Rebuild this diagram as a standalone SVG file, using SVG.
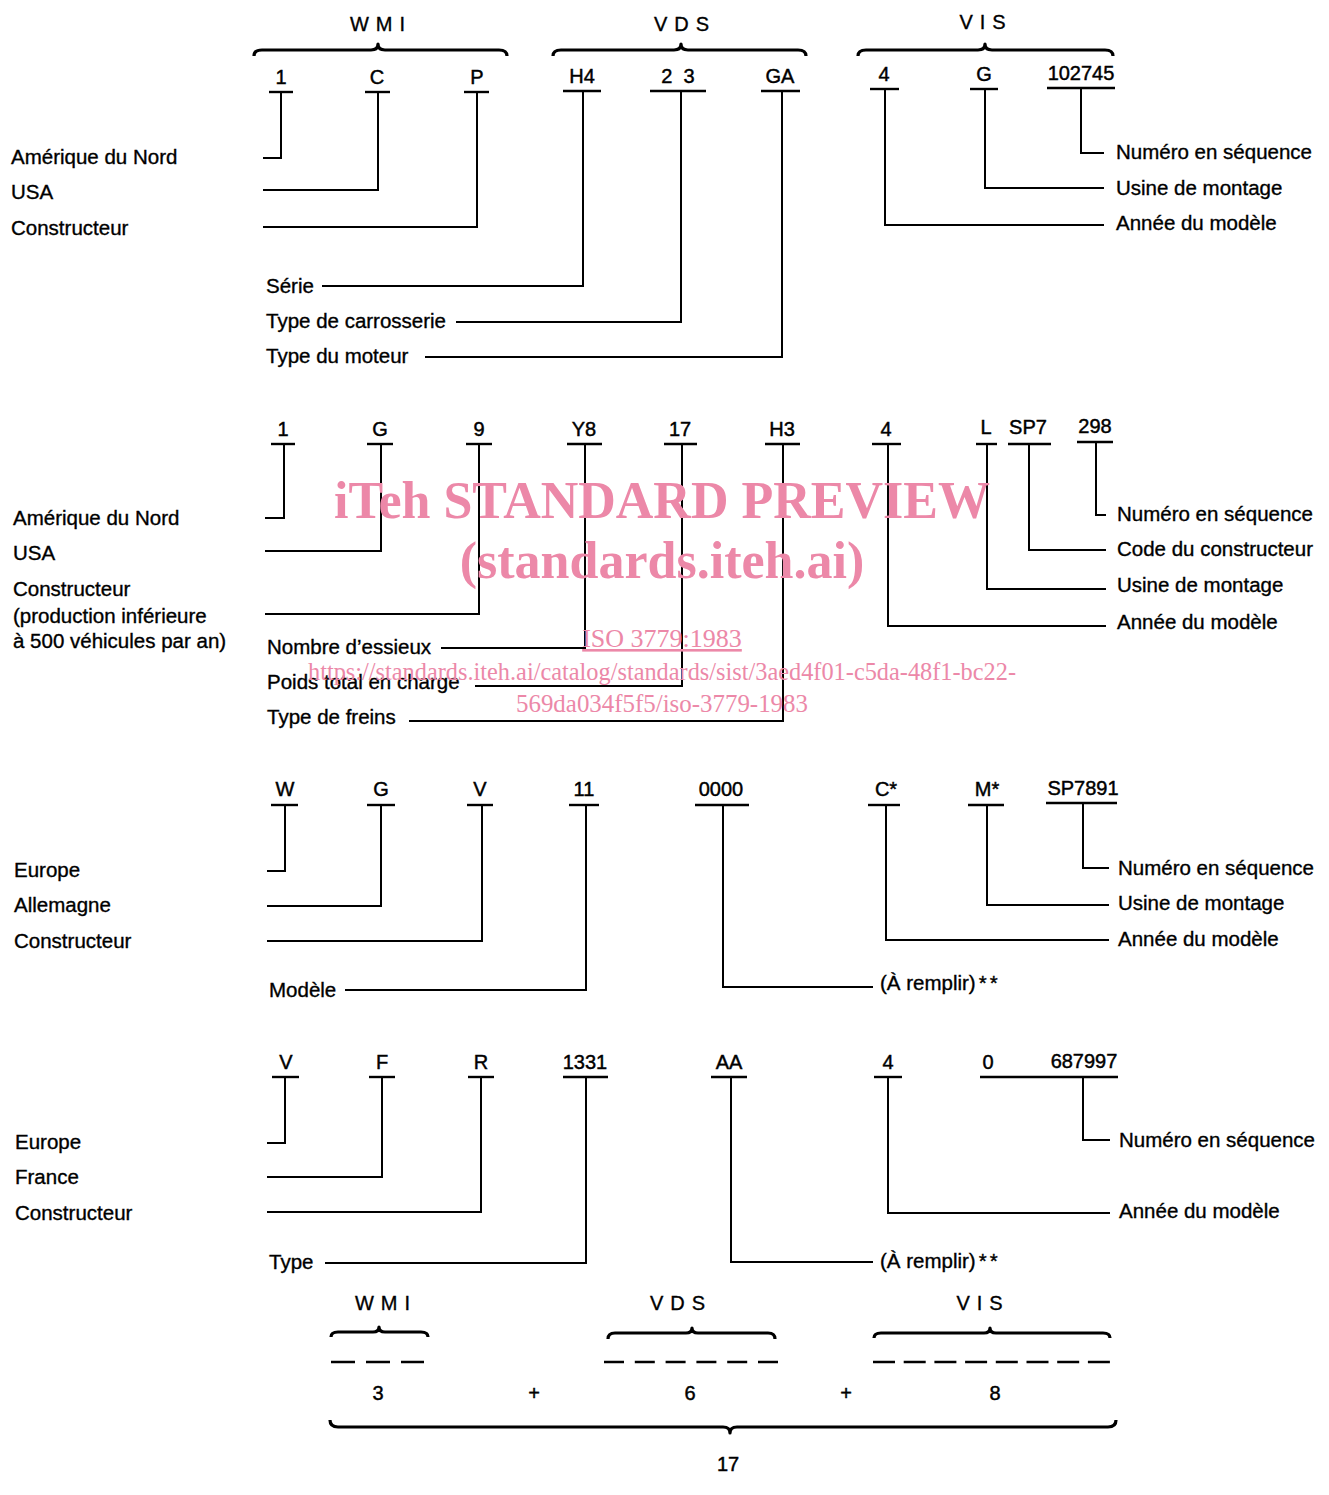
<svg xmlns="http://www.w3.org/2000/svg" width="1329" height="1495" viewBox="0 0 1329 1495">
<style>
text{font-family:"Liberation Sans",Arial,sans-serif;fill:#000}
.lb{font-size:20.5px;stroke:#000;stroke-width:0.35}
.ch{font-size:20px;text-anchor:middle;stroke:#000;stroke-width:0.45}
.hd{font-size:20px;text-anchor:middle;letter-spacing:7px;stroke:#000;stroke-width:0.35}
.ul{stroke:#000;stroke-width:2.4;fill:none}
.cn{stroke:#000;stroke-width:2;fill:none}
.br{stroke:#000;stroke-width:3.2;fill:none;stroke-linejoin:round}
.ds{stroke:#000;stroke-width:2.6;fill:none}
.wm{font-family:"Liberation Serif","Times New Roman",serif;fill:#ec88a8;text-anchor:middle}
</style>
<rect width="1329" height="1495" fill="#fff"/>

<g id="headers">
<g id="hdr-wmi"><text class="hd" x="381" y="31">WMI</text><path class="br" d="M254,56 Q254,50 262,50 L371,50 Q378,50 378,44 Q378,50 385,50 L499,50 Q507,50 507,56"/></g>
<g id="hdr-vds"><text class="hd" x="685" y="31">VDS</text><path class="br" d="M553,56 Q553,50 561,50 L674,50 Q681,50 681,44 Q681,50 688,50 L798,50 Q806,50 806,56"/></g>
<g id="hdr-vis"><text class="hd" x="986" y="29">VIS</text><path class="br" d="M858,56 Q858,50 866,50 L978,50 Q985,50 985,44 Q985,50 992,50 L1105,50 Q1113,50 1113,56"/></g>
</g>

<g id="connectors">
<path class="cn" d="M281,92 V158 H263"/>
<path class="cn" d="M378,92 V190 H263"/>
<path class="cn" d="M477,92 V227 H263"/>
<path class="cn" d="M583,91 V286 H322"/>
<path class="cn" d="M681,91 V322 H456"/>
<path class="cn" d="M782,91 V357 H425"/>
<path class="cn" d="M885,89 V225 H1104"/>
<path class="cn" d="M985,89 V188 H1104"/>
<path class="cn" d="M1081,88 V153 H1104"/>

<path class="cn" d="M284,444 V518 H265"/>
<path class="cn" d="M381,444 V551 H265"/>
<path class="cn" d="M479,444 V614 H265"/>
<path class="cn" d="M585,444 V648 H441"/>
<path class="cn" d="M682,444 V686 H475"/>
<path class="cn" d="M783,444 V721 H409"/>
<path class="cn" d="M888,444 V626 H1106"/>
<path class="cn" d="M987,444 V589 H1106"/>
<path class="cn" d="M1029,444 V550 H1106"/>
<path class="cn" d="M1096,442 V515 H1106"/>

<path class="cn" d="M285,805 V871 H267"/>
<path class="cn" d="M381,805 V906 H267"/>
<path class="cn" d="M482,805 V941 H267"/>
<path class="cn" d="M586,805 V990 H345"/>
<path class="cn" d="M723,805 V987 H873"/>
<path class="cn" d="M886,805 V940 H1109"/>
<path class="cn" d="M987,805 V905 H1109"/>
<path class="cn" d="M1083,803 V868 H1109"/>

<path class="cn" d="M285,1077 V1143 H267"/>
<path class="cn" d="M382,1077 V1177 H267"/>
<path class="cn" d="M481,1077 V1212 H267"/>
<path class="cn" d="M586,1077 V1263 H325"/>
<path class="cn" d="M731,1077 V1262 H873"/>
<path class="cn" d="M888,1077 V1213 H1110"/>
<path class="cn" d="M1083,1077 V1140 H1110"/>
</g>

<!-- Example 1 -->
<g id="ex1">
<g id="e1-1"><text class="ch" x="281" y="84">1</text><path class="ul" d="M269,92 H293"/></g>
<g id="e1-C"><text class="ch" x="377" y="84">C</text><path class="ul" d="M365,92 H390"/></g>
<g id="e1-P"><text class="ch" x="477" y="84">P</text><path class="ul" d="M464,92 H489"/></g>
<g id="e1-H4"><text class="ch" x="582" y="83">H4</text><path class="ul" d="M563,91 H601"/></g>
<g id="e1-23"><text class="ch" x="678" y="83" xml:space="preserve">2  3</text><path class="ul" d="M650,91 H706"/></g>
<g id="e1-GA"><text class="ch" x="780" y="83">GA</text><path class="ul" d="M761,91 H800"/></g>
<g id="e1-4"><text class="ch" x="884" y="81">4</text><path class="ul" d="M870,89 H899"/></g>
<g id="e1-G"><text class="ch" x="984" y="81">G</text><path class="ul" d="M970,89 H998"/></g>
<g id="e1-seq"><text class="ch" x="1081" y="80">102745</text><path class="ul" d="M1047,88 H1115"/></g>
<g id="e1-l1"><text class="lb" x="11" y="164">Amérique du Nord</text></g>
<g id="e1-l2"><text class="lb" x="11" y="199">USA</text></g>
<g id="e1-l3"><text class="lb" x="11" y="235">Constructeur</text></g>
<g id="e1-l4"><text class="lb" x="266" y="293">Série</text></g>
<g id="e1-l5"><text class="lb" x="266" y="328">Type de carrosserie</text></g>
<g id="e1-l6"><text class="lb" x="266" y="363">Type du moteur</text></g>
<g id="e1-r1"><text class="lb" x="1116" y="159">Numéro en séquence</text></g>
<g id="e1-r2"><text class="lb" x="1116" y="195">Usine de montage</text></g>
<g id="e1-r3"><text class="lb" x="1116" y="230">Année du modèle</text></g>
</g>

<!-- Example 2 -->
<g id="ex2">
<g id="e2-1"><text class="ch" x="283" y="436">1</text><path class="ul" d="M271,444 H295"/></g>
<g id="e2-G"><text class="ch" x="380" y="436">G</text><path class="ul" d="M367,444 H393"/></g>
<g id="e2-9"><text class="ch" x="479" y="436">9</text><path class="ul" d="M466,444 H492"/></g>
<g id="e2-Y8"><text class="ch" x="584" y="436">Y8</text><path class="ul" d="M567,444 H602"/></g>
<g id="e2-17"><text class="ch" x="680" y="436">17</text><path class="ul" d="M664,444 H697"/></g>
<g id="e2-H3"><text class="ch" x="782" y="436">H3</text><path class="ul" d="M765,444 H800"/></g>
<g id="e2-4"><text class="ch" x="886" y="436">4</text><path class="ul" d="M872,444 H901"/></g>
<g id="e2-L"><text class="ch" x="986" y="434">L</text><path class="ul" d="M976,444 H997"/></g>
<g id="e2-SP7"><text class="ch" x="1028" y="434">SP7</text><path class="ul" d="M1008,444 H1051"/></g>
<g id="e2-298"><text class="ch" x="1095" y="433">298</text><path class="ul" d="M1077,442 H1113"/></g>
<g id="e2-l1"><text class="lb" x="13" y="525">Amérique du Nord</text></g>
<g id="e2-l2"><text class="lb" x="13" y="560">USA</text></g>
<g id="e2-l3"><text class="lb" x="13" y="596">Constructeur</text><text class="lb" x="13" y="623">(production inférieure</text><text class="lb" x="13" y="648">à 500 véhicules par an)</text></g>
<g id="e2-l4"><text class="lb" x="267" y="654">Nombre d’essieux</text></g>
<g id="e2-l5"><text class="lb" x="267" y="689">Poids total en charge</text></g>
<g id="e2-l6"><text class="lb" x="267" y="724">Type de freins</text></g>
<g id="e2-r1"><text class="lb" x="1117" y="521">Numéro en séquence</text></g>
<g id="e2-r2"><text class="lb" x="1117" y="556">Code du constructeur</text></g>
<g id="e2-r3"><text class="lb" x="1117" y="592">Usine de montage</text></g>
<g id="e2-r4"><text class="lb" x="1117" y="629">Année du modèle</text></g>
</g>

<!-- Example 3 -->
<g id="ex3">
<g id="e3-W"><text class="ch" x="285" y="796">W</text><path class="ul" d="M271,805 H298"/></g>
<g id="e3-G"><text class="ch" x="381" y="796">G</text><path class="ul" d="M367,805 H395"/></g>
<g id="e3-V"><text class="ch" x="480" y="796">V</text><path class="ul" d="M467,805 H493"/></g>
<g id="e3-11"><text class="ch" x="584" y="796">11</text><path class="ul" d="M569,805 H599"/></g>
<g id="e3-0000"><text class="ch" x="721" y="796">0000</text><path class="ul" d="M695,805 H749"/></g>
<g id="e3-C"><text class="ch" x="886" y="796">C*</text><path class="ul" d="M868,805 H900"/></g>
<g id="e3-M"><text class="ch" x="987" y="796">M*</text><path class="ul" d="M968,805 H1004"/></g>
<g id="e3-seq"><text class="ch" x="1083" y="795">SP7891</text><path class="ul" d="M1046,803 H1117"/></g>
<g id="e3-l1"><text class="lb" x="14" y="877">Europe</text></g>
<g id="e3-l2"><text class="lb" x="14" y="912">Allemagne</text></g>
<g id="e3-l3"><text class="lb" x="14" y="948">Constructeur</text></g>
<g id="e3-l4"><text class="lb" x="269" y="997">Modèle</text></g>
<g id="e3-l5"><text class="lb" x="880" y="990">(À remplir)<tspan dx="3">*</tspan><tspan dx="3">*</tspan></text></g>
<g id="e3-r1"><text class="lb" x="1118" y="875">Numéro en séquence</text></g>
<g id="e3-r2"><text class="lb" x="1118" y="910">Usine de montage</text></g>
<g id="e3-r3"><text class="lb" x="1118" y="946">Année du modèle</text></g>
</g>

<!-- Example 4 -->
<g id="ex4">
<g id="e4-V"><text class="ch" x="286" y="1069">V</text><path class="ul" d="M272,1077 H299"/></g>
<g id="e4-F"><text class="ch" x="382" y="1069">F</text><path class="ul" d="M369,1077 H395"/></g>
<g id="e4-R"><text class="ch" x="481" y="1069">R</text><path class="ul" d="M468,1077 H494"/></g>
<g id="e4-1331"><text class="ch" x="585" y="1069">1331</text><path class="ul" d="M563,1077 H608"/></g>
<g id="e4-AA"><text class="ch" x="729" y="1069">AA</text><path class="ul" d="M711,1077 H747"/></g>
<g id="e4-4"><text class="ch" x="888" y="1069">4</text><path class="ul" d="M874,1077 H902"/></g>
<g id="e4-seq"><text class="ch" x="988" y="1069">0</text><text class="ch" x="1084" y="1068">687997</text><path class="ul" d="M980,1077 H1118"/></g>
<g id="e4-l1"><text class="lb" x="15" y="1149">Europe</text></g>
<g id="e4-l2"><text class="lb" x="15" y="1184">France</text></g>
<g id="e4-l3"><text class="lb" x="15" y="1220">Constructeur</text></g>
<g id="e4-l4"><text class="lb" x="269" y="1269">Type</text></g>
<g id="e4-l5"><text class="lb" x="880" y="1268">(À remplir)<tspan dx="3">*</tspan><tspan dx="3">*</tspan></text></g>
<g id="e4-r1"><text class="lb" x="1119" y="1147">Numéro en séquence</text></g>
<g id="e4-r2"><text class="lb" x="1119" y="1218">Année du modèle</text></g>
</g>

<!-- Summary -->
<g id="summary">
<g id="s-wmi"><text class="hd" x="386" y="1310">WMI</text><path class="br" d="M331,1337 Q331,1332 338,1332 L373,1332 Q379,1332 379,1327 Q379,1332 385,1332 L421,1332 Q428,1332 428,1337"/><path class="ds" d="M331,1362 H424" stroke-dasharray="24 11"/><text class="ch" x="378" y="1400">3</text></g>
<g id="s-plus1"><text class="ch" x="534" y="1400">+</text></g>
<g id="s-vds"><text class="hd" x="681" y="1310">VDS</text><path class="br" d="M608,1339 Q608,1333 615,1333 L686,1333 Q692,1333 692,1328 Q692,1333 698,1333 L768,1333 Q775,1333 775,1339"/><path class="ds" d="M604,1362 H778" stroke-dasharray="20 10.8"/><text class="ch" x="690" y="1400">6</text></g>
<g id="s-plus2"><text class="ch" x="846" y="1400">+</text></g>
<g id="s-vis"><text class="hd" x="983" y="1310">VIS</text><path class="br" d="M874,1338 Q874,1333 881,1333 L984,1333 Q990,1333 990,1328 Q990,1333 996,1333 L1103,1333 Q1110,1333 1110,1338"/><path class="ds" d="M873,1362 H1110" stroke-dasharray="22 8.7"/><text class="ch" x="995" y="1400">8</text></g>
<g id="s-total"><path class="br" d="M330,1420 Q330,1427 338,1427 L723,1427 Q730,1427 730,1433 Q730,1427 737,1427 L1108,1427 Q1116,1427 1116,1420"/><text class="ch" x="728" y="1471">17</text></g>
</g>

<!-- Watermark -->
<g id="watermark">
<text class="wm" x="662" y="518" font-size="52" font-weight="bold">iTeh STANDARD PREVIEW</text>
<text class="wm" x="662" y="578" font-size="52" font-weight="bold">(standards.iteh.ai)</text>
<text class="wm" x="662" y="647" font-size="26" text-decoration="underline">ISO 3779:1983</text>
<text class="wm" x="662" y="680" font-size="26" textLength="708" lengthAdjust="spacingAndGlyphs">https://standards.iteh.ai/catalog/standards/sist/3aed4f01-c5da-48f1-bc22-</text>
<text class="wm" x="662" y="712" font-size="26" textLength="292" lengthAdjust="spacingAndGlyphs">569da034f5f5/iso-3779-1983</text>
</g>
</svg>
